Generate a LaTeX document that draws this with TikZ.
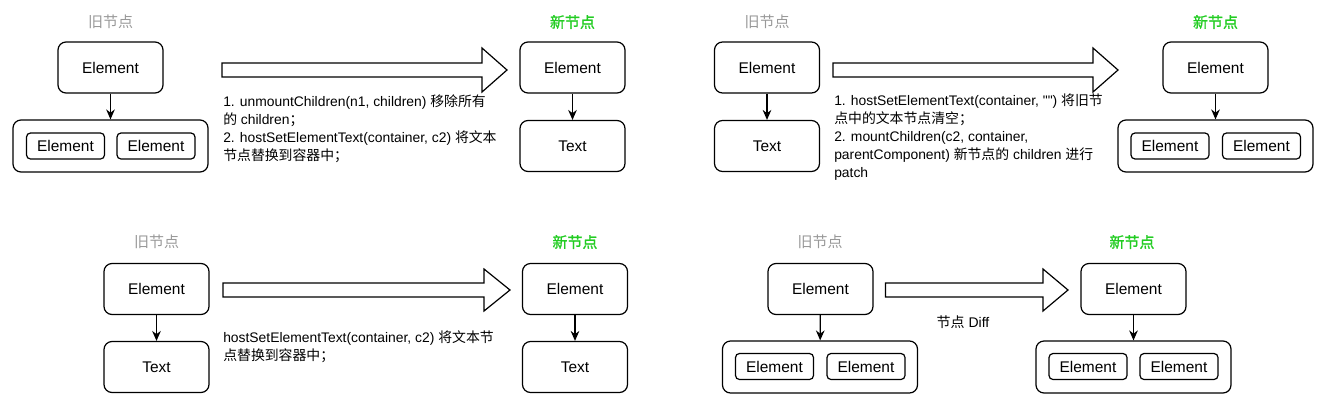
\documentclass[tikz,border=0pt]{standalone}
\usepackage{fontspec}
\setmainfont{Liberation Sans}[Ligatures=TeXOff]
\newfontfamily\cjk{Noto Sans CJK SC}
\newfontfamily\cjkm{Noto Sans CJK SC}[FakeBold=1.2]
\newcommand{\zh}[1]{{\cjk #1}}
\usepackage{tikz}
\usetikzlibrary{arrows.meta, positioning}
\definecolor{oldgray}{HTML}{999999}
\definecolor{newgreen}{HTML}{22CC22}
\tikzset{
  blk/.style={rectangle, draw, rounded corners=6pt, line width=0.9pt,
              minimum width=78.75pt, minimum height=38.25pt, inner sep=0pt,
              font=\fontsize{11.6}{13}\selectfont},
  grp/.style={rectangle, draw, rounded corners=6pt, line width=0.9pt,
              minimum width=146.25pt, minimum height=39pt, inner sep=0pt},
  sub/.style={rectangle, draw, rounded corners=3pt, line width=0.9pt,
              minimum width=58.5pt, minimum height=19.5pt, inner sep=0pt,
              font=\fontsize{11.6}{13}\selectfont},
  oldt/.style={text=oldgray, inner sep=0pt, font=\fontsize{11.25}{13}\cjk},
  newt/.style={text=newgreen, inner sep=0pt, font=\fontsize{11.25}{13}\cjkm},
  note/.style={anchor=north west, align=left, inner sep=0pt,
               font=\fontsize{10.4}{13.5}\selectfont},
  bigarr/.style={draw, line width=0.9pt, line join=miter},
  arc/.style={-{Stealth[length=7.5pt, width=6.5pt]}, line width=0.9pt}
}

\begin{document}
\begin{tikzpicture}[x=0.75pt, y=-0.75pt]
        \useasboundingbox (0,0) rectangle (1329,408);
        % top left
        \node[oldt] (t1o) at (110.5,22) {旧节点};
        \node[blk] (e1o) at (110.5,67.5) {Element};
        \node[grp] (c1o) at (110.5,146) {};
        \node[sub] (s1a) at (65.5,146) {Element};
        \node[sub] (s1b) at (156,146) {Element};
        \draw[arc] (e1o) -- (c1o);
        \draw[bigarr] (222,63) -- (482,63) -- (482,48) -- (507,70) -- (482,92)
          -- (482,77) -- (222,77) -- cycle;
        \node[note] (d1) at (223,94)
          {1. unmountChildren(n1, children) \zh{移除所有}\\
           \zh{的} children\zh{；}\\
           2. hostSetElementText(container, c2) \zh{将文本}\\
           \zh{节点替换到容器中；}};
        \node[newt] (t1n) at (572.5,22) {新节点};
        \node[blk] (e1n) at (572.5,67.5) {Element};
        \node[blk] (x1n) at (572.5,146) {Text};
        \draw[arc] (e1n) -- (x1n);
        % top right
        \node[oldt] (t2o) at (767,22) {旧节点};
        \node[blk] (e2o) at (767,67.5) {Element};
        \node[blk] (x2o) at (767,146) {Text};
        \draw[arc] (e2o) -- (x2o);
        \draw[bigarr] (833,63) -- (1093,63) -- (1093,48) -- (1118,70) -- (1093,92)
          -- (1093,77) -- (833,77) -- cycle;
        \node[note] (d2) at (834,94)
          {1. hostSetElementText(container, "") \zh{将旧节}\\
           \zh{点中的文本节点清空；}\\
           2. mountChildren(c2, container,\\
           parentComponent) \zh{新节点的} children \zh{进行}\\
           patch};
        \node[newt] (t2n) at (1215.5,22) {新节点};
        \node[blk] (e2n) at (1215.5,67.5) {Element};
        \node[grp] (c2n) at (1215.5,146) {};
        \node[sub] (s2a) at (1170,146) {Element};
        \node[sub] (s2b) at (1261.5,146) {Element};
        \draw[arc] (e2n) -- (c2n);
        % bottom left
        \node[oldt] (t3o) at (156.5,242) {旧节点};
        \node[blk] (e3o) at (156.5,289) {Element};
        \node[blk] (x3o) at (156.5,367) {Text};
        \draw[arc] (e3o) -- (x3o);
        \draw[bigarr] (223,283) -- (484,283) -- (484,269) -- (510,290) -- (484,311)
          -- (484,297) -- (223,297) -- cycle;
        \node[note] (d3) at (223,330)
          {hostSetElementText(container, c2) \zh{将文本节}\\
           \zh{点替换到容器中；}};
        \node[newt] (t3n) at (575,242) {新节点};
        \node[blk] (e3n) at (575,289) {Element};
        \node[blk] (x3n) at (575,367) {Text};
        \draw[arc] (e3n) -- (x3n);
        % bottom right
        \node[oldt] (t4o) at (820,242) {旧节点};
        \node[blk] (e4o) at (820.5,289) {Element};
        \node[grp] (c4o) at (820,367) {};
        \node[sub] (s4a) at (774.5,366.5) {Element};
        \node[sub] (s4b) at (866,366.5) {Element};
        \draw[arc] (e4o) -- (c4o);
        \draw[bigarr] (885.5,283) -- (1043,283) -- (1043,269) -- (1068,290) -- (1043,311)
          -- (1043,297) -- (885.5,297) -- cycle;
        \node[font=\fontsize{10.5}{13}\selectfont] (d4) at (963,322) {\zh{节点} Diff};
        \node[newt] (t4n) at (1132,242) {新节点};
        \node[blk] (e4n) at (1133.5,289) {Element};
        \node[grp] (c4n) at (1133.5,367) {};
        \node[sub] (s4c) at (1088,366.5) {Element};
        \node[sub] (s4d) at (1179,366.5) {Element};
        \draw[arc] (e4n) -- (c4n);
\end{tikzpicture}
\end{document}
